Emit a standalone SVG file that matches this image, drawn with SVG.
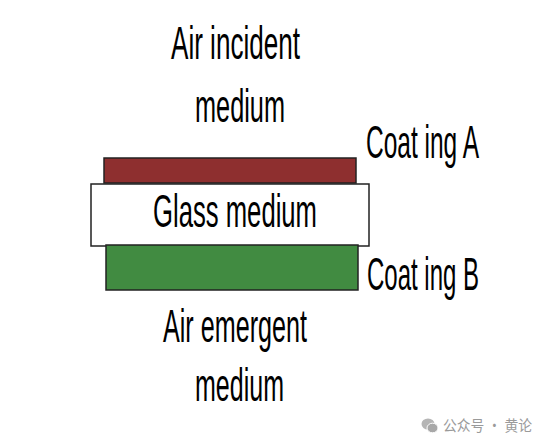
<svg xmlns="http://www.w3.org/2000/svg" width="552" height="447" viewBox="0 0 552 447">
<style>
.t{font-family:"Liberation Sans",Arial,sans-serif;font-size:47px;fill:#000;}
.layer{stroke:#222;stroke-width:1.5;}
.wm{font-family:"Noto Sans CJK SC",sans-serif;font-size:15px;fill:#9a9a9a;}
</style>
<rect width="552" height="447" fill="#fff"/>
<g id="air-incident">
<text class="t" x="171" y="59" textLength="129" lengthAdjust="spacingAndGlyphs">Air incident</text>
<text class="t" x="195" y="122" textLength="90" lengthAdjust="spacingAndGlyphs">medium</text>
</g>
<g id="coating-a">
<rect class="layer" x="104" y="158" width="252" height="25" fill="#8e2f2f"/>
<text class="t" x="366" y="158" textLength="113" lengthAdjust="spacingAndGlyphs">Coat ing A</text>
</g>
<g id="glass">
<rect class="layer" x="91" y="184" width="278" height="62" fill="#fff"/>
<text class="t" x="153" y="227" textLength="164" lengthAdjust="spacingAndGlyphs">Glass medium</text>
</g>
<g id="coating-b">
<rect class="layer" x="106" y="245" width="252" height="45" fill="#418b41"/>
<text class="t" x="367" y="290" textLength="112" lengthAdjust="spacingAndGlyphs">Coat ing B</text>
</g>
<g id="air-emergent">
<text class="t" x="163" y="342" textLength="144" lengthAdjust="spacingAndGlyphs">Air emergent</text>
<text class="t" x="195" y="401" textLength="89" lengthAdjust="spacingAndGlyphs">medium</text>
</g>
<g id="connectors"></g>
<g id="watermark">
<ellipse cx="428" cy="424" rx="6.5" ry="5.5" fill="#b5b5b5"/>
<ellipse cx="432.5" cy="428" rx="5.5" ry="4.8" fill="#a8a8a8" stroke="#fff" stroke-width="1"/>
<text class="wm" x="443" y="431" textLength="89" lengthAdjust="spacingAndGlyphs">公众号 · 黄论</text>
</g>
</svg>
